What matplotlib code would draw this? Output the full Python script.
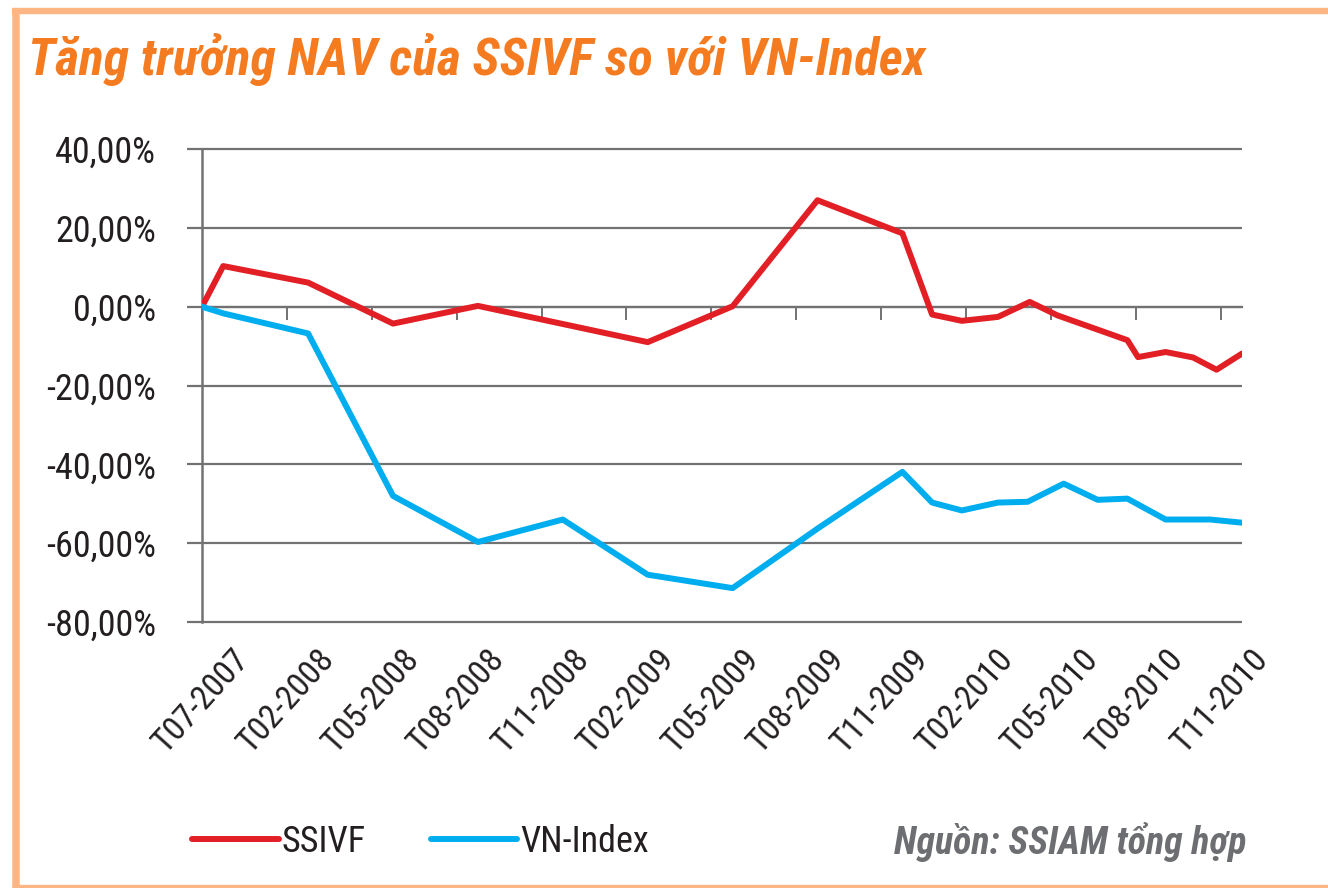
import matplotlib
matplotlib.use('Agg')
import matplotlib.pyplot as plt
from matplotlib.lines import Line2D
from matplotlib import font_manager

# values (x = category index, 4 categories per tick)
ssivf_x = [0, 1, 5, 9, 13, 21, 25, 29, 33, 34.4, 35.8, 37.5, 39, 40.3,
           43.6, 44.1, 45.4, 46.7, 47.8, 49]
ssivf_y = [0, 10.3, 6.1, -4.3, 0.2, -9.0, 0.1, 27.0, 18.6, -2.0, -3.6, -2.6,
           1.2, -2.2, -8.5, -12.8, -11.5, -12.9, -16.0, -11.9]

vni_x = [0, 1, 5, 9, 13, 17, 21, 25, 29, 33, 34.4, 35.8, 37.5, 38.9, 40.6,
         42.2, 43.6, 45.4, 47.5, 49]
vni_y = [0, -1.7, -6.8, -48.0, -59.7, -54.0, -68.0, -71.4, -56.3, -41.9,
         -49.7, -51.7, -49.7, -49.5, -44.9, -49.0, -48.7, -54.0, -54.0, -54.8]

month_labels = ['T07-2007', 'T02-2008', 'T05-2008', 'T08-2008', 'T11-2008',
                'T02-2009', 'T05-2009', 'T08-2009', 'T11-2009', 'T02-2010',
                'T05-2010', 'T08-2010', 'T11-2010']
month_pos = [0, 4, 8, 12, 16, 20, 24, 28, 32, 36, 40, 44, 48]

y_ticks = [40, 20, 0, -20, -40, -60, -80]
y_labels = ['40,00%', '20,00%', '0,00%', '-20,00%', '-40,00%', '-60,00%', '-80,00%']

title = 'Tăng trưởng NAV của SSIVF so với VN-Index'
source = 'Nguồn: SSIAM tổng hợp'

red = '#e31f26'
blue = '#00aeef'
grid_gray = '#727272'
text_col = '#231f20'
orange = '#f47b20'
frame_col = '#fdb683'

# pick a narrow sans that is installed
narrow = ['Roboto Condensed', 'Archivo Narrow', 'PT Sans Narrow', 'Fira Sans Condensed',
          'IBM Plex Sans Condensed', 'Open Sans Condensed', 'Liberation Sans Narrow']
faces = font_manager.fontManager.ttflist
names = {f.name for f in faces}
body_font = next((n for n in narrow if n in names), 'DejaVu Sans')
bold_font = next((n for n in narrow
                  if any(f.name == n and f.style == 'italic' and int(f.weight) >= 700 for f in faces)),
                 body_font)
plt.rcParams['font.family'] = [body_font, 'DejaVu Sans']

W, H = 1328, 888
fig = plt.figure(figsize=(W / 100, H / 100), dpi=100)
fig.patch.set_facecolor('white')

# axes box: x 202..1242 px, y 40%..-80% at 149..622 px (small pad so edge grids show)
ax = fig.add_axes([202 / W, 1 - 623.6 / H, 1040 / W, 476.2 / H])
ax.set_xlim(0, 49)
ax.set_ylim(-80.4, 40.4)

l1, = ax.plot(ssivf_x, ssivf_y, color=red, lw=4.3, solid_capstyle='round',
              solid_joinstyle='round', zorder=3)
l2, = ax.plot(vni_x, vni_y, color=blue, lw=4.3, solid_capstyle='round',
              solid_joinstyle='round', zorder=3)

# y axis
ax.set_yticks(y_ticks, labels=y_labels)
ax.tick_params(axis='y', length=11, width=1.6, color=grid_gray, pad=22,
               labelsize=26, labelcolor=text_col)
ax.yaxis.grid(True, color=grid_gray, lw=1.6)
ax.set_axisbelow(True)

for s in ['top', 'right']:
    ax.spines[s].set_visible(False)
ax.spines['left'].set_color(grid_gray)
ax.spines['left'].set_linewidth(1.8)
ax.spines['left'].set_bounds(-80, 40)

# x ticks sit on the zero line, labels go below the plot
ax.spines['bottom'].set_position(('data', 0))
ax.spines['bottom'].set_color(grid_gray)
ax.spines['bottom'].set_linewidth(1.6)
ax.set_xticks(month_pos)
ax.tick_params(axis='x', length=9.5, width=1.4, color=grid_gray,
               direction='out', labelbottom=False)

sec = ax.secondary_xaxis('bottom')
sec.set_xticks(month_pos, labels=month_labels)
sec.tick_params(length=0, pad=14, labelsize=24.5, labelcolor=text_col)
sec.spines['bottom'].set_visible(False)
for lab in sec.get_xticklabels():
    lab.set_rotation(48)
    lab.set_ha('center')
    lab.set_va('top')

# title and source
t_title = fig.text(28 / W, 1 - 59 / H, title, ha='left', va='center', fontsize=34,
                   weight='bold', style='italic', color=orange, family=[bold_font, 'DejaVu Sans'])
t_src = fig.text(1246 / W, 1 - 842 / H, source, ha='right', va='center', fontsize=26,
                 weight='bold', style='italic', color='#6d6e71', family=[bold_font, 'DejaVu Sans'])

fig.legend([l1, l2], ['SSIVF', 'VN-Index'], loc='center left',
           bbox_to_anchor=(192 / W, 1 - 842 / H), ncol=2, frameon=False,
           handlelength=2.4, handletextpad=0.08, columnspacing=1.8,
           fontsize=26, borderpad=0, borderaxespad=0, labelcolor=text_col)

# fit title and source widths to the reference
fig.canvas.draw()
r = fig.canvas.get_renderer()
for t, target in [(t_title, 897), (t_src, 352)]:
    w = t.get_window_extent(r).width
    t.set_fontsize(t.get_fontsize() * target / w)

# light orange frame (left, top, bottom edges)
fig.add_artist(Line2D([15.5 / W, 15.5 / W], [0, 1 - 8 / H], color=frame_col,
                      lw=5.4, solid_capstyle='butt'))
fig.add_artist(Line2D([12 / W, 1], [1 - 11 / H, 1 - 11 / H], color=frame_col,
                      lw=4.6, solid_capstyle='butt'))
fig.add_artist(Line2D([12 / W, 1], [1 - 886 / H, 1 - 886 / H], color=frame_col,
                      lw=2.4, solid_capstyle='butt'))

fig.savefig('out.png', dpi=100)
